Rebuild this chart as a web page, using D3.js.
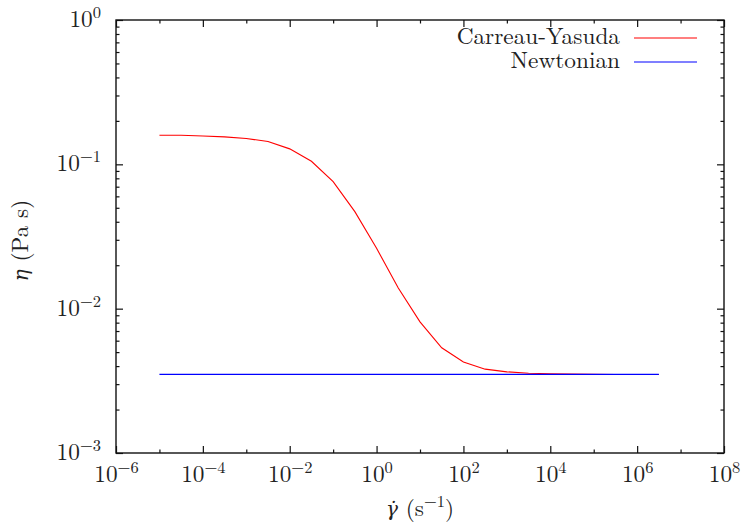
<!DOCTYPE html>
<html>
<head>
<meta charset="utf-8">
<script src="https://cdn.jsdelivr.net/npm/d3@7"></script>
<style>
  body { margin: 0; background: #fff; }
</style>
</head>
<body>
<svg id="chart" width="742" height="527"></svg>
<script>
// shear rate samples (s^-1), half-decade steps
const shearRate = [1e-5, 3.162e-5, 1e-4, 3.162e-4, 1e-3, 3.162e-3, 1e-2, 3.162e-2, 1e-1, 3.162e-1,
  1, 3.162, 10, 31.62, 100, 316.2, 1e3, 3162, 1e4, 3.162e4, 1e5, 3.162e5, 1e6, 3.162e6];
// viscosity (Pa s)
const carreauYasuda = [0.159, 0.159, 0.157, 0.155, 0.151, 0.144, 0.128, 0.105, 0.0758, 0.047,
  0.0262, 0.0139, 0.0081, 0.00536, 0.00427, 0.00381, 0.00365, 0.00357, 0.00354, 0.00352,
  0.00351, 0.0035, 0.0035, 0.0035];
const newtonian = [0.0035, 0.0035, 0.0035, 0.0035, 0.0035, 0.0035, 0.0035, 0.0035, 0.0035, 0.0035,
  0.0035, 0.0035, 0.0035, 0.0035, 0.0035, 0.0035, 0.0035, 0.0035, 0.0035, 0.0035,
  0.0035, 0.0035, 0.0035, 0.0035];
const seriesNames = ["Carreau-Yasuda", "Newtonian"];
const seriesColors = ["#ff0000", "#0000ff"];
const xTicks = [1e-6, 1e-4, 1e-2, 1, 1e2, 1e4, 1e6, 1e8];
const xMinorTicks = [1e-5, 1e-3, 1e-1, 10, 1e3, 1e5, 1e7];
const yTicks = [1e-3, 1e-2, 1e-1, 1];

const FONT = "Latin Modern Roman";
const GREEK = "DejaVu Serif";
const FS = 23.3;
const svg = d3.select("#chart");
const margin = { left: 116, right: 18, top: 20, bottom: 74 };
const width = 742 - margin.left - margin.right;
const height = 527 - margin.top - margin.bottom;

const x = d3.scaleLog().domain([1e-6, 1e8]).range([0, width]);
const y = d3.scaleLog().domain([1e-3, 1]).range([height, 0]);

const g = svg.append("g").attr("transform", `translate(${margin.left},${margin.top})`);

// minor y ticks: 2..9 x 10^k
const yMinor = [];
[1e-3, 1e-2, 1e-1].forEach((p) => d3.range(2, 10).forEach((m) => yMinor.push(m * p)));

// "10" with superscript exponent
const sup = (sel) => {
  sel.each(function (d) {
    const t = d3.select(this);
    const e = Math.round(Math.log10(d));
    t.text("");
    t.append("tspan").text("10");
    t.append("tspan").attr("dy", -9).attr("font-size", 16.5).text(e < 0 ? "\u2212" + (-e) : e);
  });
};

// bottom axis
const xAxis = g.append("g").attr("transform", `translate(0,${height})`)
  .call(d3.axisBottom(x).tickValues(xTicks).tickSize(-7).tickFormat(() => ""));
xAxis.selectAll(".tick text").attr("y", 29).attr("dy", null).call(sup);
g.append("g").attr("transform", `translate(0,${height})`)
  .call(d3.axisBottom(x).tickValues(xMinorTicks).tickSize(-3.5).tickFormat(""));
// top mirror
g.append("g").call(d3.axisTop(x).tickValues(xTicks).tickSize(-7).tickFormat(""));
g.append("g").call(d3.axisTop(x).tickValues(xMinorTicks).tickSize(-3.5).tickFormat(""));

// left axis
const yAxis = g.append("g")
  .call(d3.axisLeft(y).tickValues(yTicks).tickSize(-7).tickFormat(() => ""));
yAxis.selectAll(".tick text").attr("x", -15).attr("y", 6.5).attr("dy", null).call(sup);
g.append("g").call(d3.axisLeft(y).tickValues(yMinor).tickSize(-3.5).tickFormat(""));
// right mirror
g.append("g").attr("transform", `translate(${width},0)`)
  .call(d3.axisRight(y).tickValues(yTicks).tickSize(-7).tickFormat(""));
g.append("g").attr("transform", `translate(${width},0)`)
  .call(d3.axisRight(y).tickValues(yMinor).tickSize(-3.5).tickFormat(""));

g.selectAll(".domain").remove();
g.selectAll("g").attr("font-family", FONT).attr("font-size", FS);
g.selectAll(".tick line").attr("stroke", "#111").attr("stroke-width", 1.2);
g.selectAll(".tick text").attr("fill", "#222");

// frame
g.append("rect").attr("width", width).attr("height", height)
  .attr("fill", "none").attr("stroke", "#111").attr("stroke-width", 1.4);

// curves
const line = d3.line().x((d) => x(d[0])).y((d) => y(d[1]));
[carreauYasuda, newtonian].forEach((vals, i) => {
  g.append("path")
    .datum(shearRate.map((s, j) => [s, vals[j]]))
    .attr("fill", "none")
    .attr("stroke", seriesColors[i])
    .attr("stroke-width", i === 1 ? 1.3 : 1.1)
    .attr("d", line);
});

// legend
seriesNames.forEach((name, i) => {
  const ly = 38 + i * 24;
  svg.append("text").attr("x", 620).attr("y", ly + 6).attr("text-anchor", "end")
    .attr("font-family", FONT).attr("font-size", FS).attr("fill", "#222").text(name);
  svg.append("line").attr("x1", 634).attr("x2", 697).attr("y1", ly).attr("y2", ly)
    .attr("stroke", seriesColors[i]).attr("stroke-width", 1.2);
});

// axis titles
const xt = svg.append("text").attr("x", margin.left + width / 2).attr("y", 516)
  .attr("text-anchor", "middle").attr("font-family", FONT).attr("font-size", FS).attr("fill", "#222");
xt.append("tspan").attr("font-family", GREEK).attr("font-style", "italic").attr("font-size", 20).text("\u03b3\u0307");
xt.append("tspan").text(" (s");
xt.append("tspan").attr("dy", -9).attr("font-size", 16.5).text("\u22121");
xt.append("tspan").attr("dy", 9).text(")");

const yt = svg.append("text").attr("transform", `translate(28,${margin.top + height / 2 + 4}) rotate(-90)`)
  .attr("text-anchor", "middle").attr("font-family", FONT).attr("font-size", FS).attr("fill", "#222");
yt.append("tspan").attr("font-family", GREEK).attr("font-style", "italic").attr("font-size", 20).text("\u03b7");
yt.append("tspan").text(" (Pa s)");
</script>
</body>
</html>
